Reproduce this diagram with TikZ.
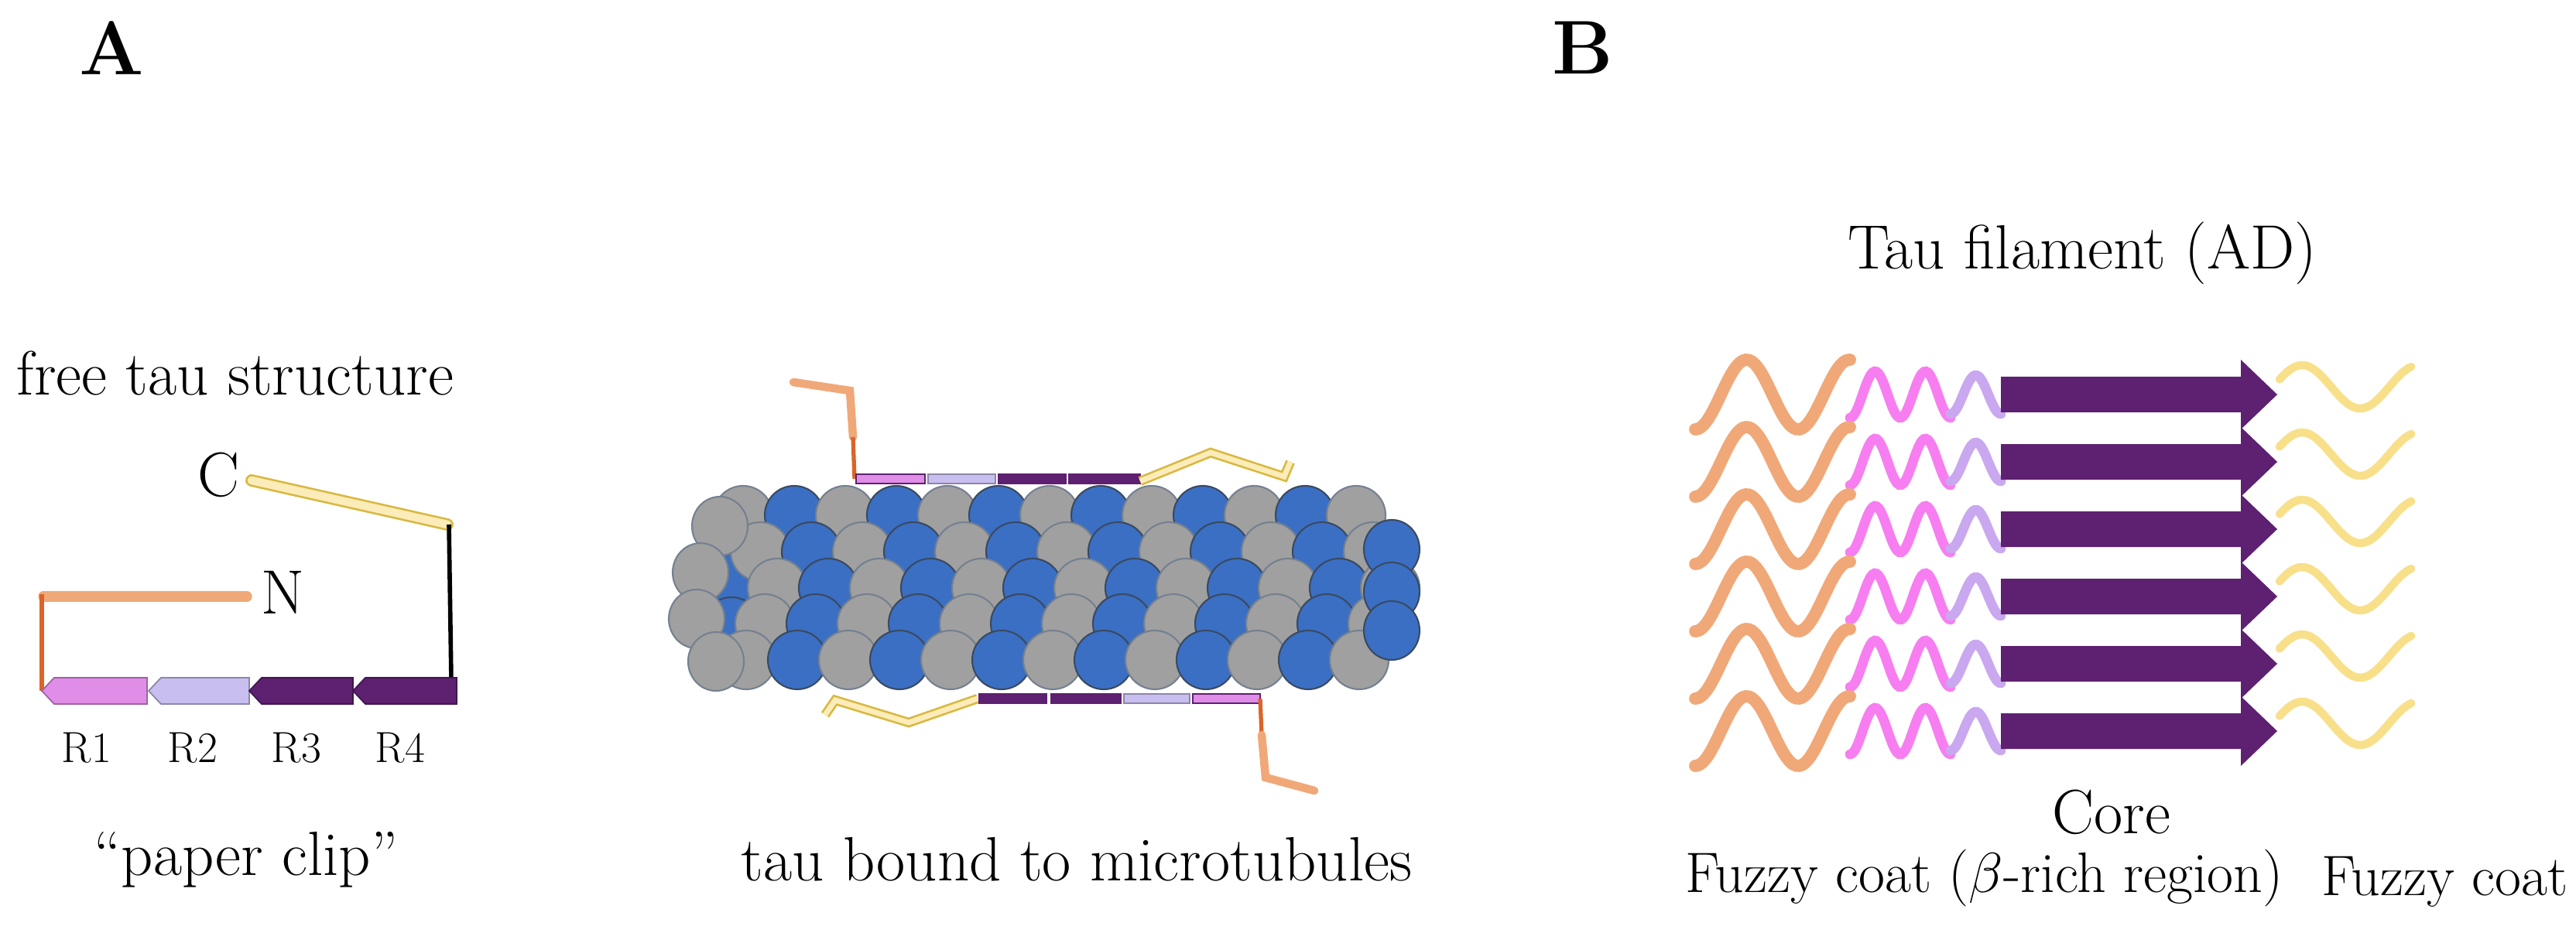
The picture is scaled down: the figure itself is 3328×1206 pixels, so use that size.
\documentclass[tikz,border=0pt]{standalone}
\definecolor{orng}{HTML}{F0A878}
\definecolor{orngd}{HTML}{D9652A}
\definecolor{pnk}{HTML}{F77EF0}
\definecolor{lil}{HTML}{C9A8F0}
\definecolor{ylw}{HTML}{F8E08A}
\definecolor{ylwd}{HTML}{D9B840}
\definecolor{purp}{HTML}{5E2070}
\definecolor{r1c}{HTML}{E08DE8}
\definecolor{r2c}{HTML}{C8BFF0}
\definecolor{mtb}{HTML}{3A6FC4}
\definecolor{mtg}{HTML}{A0A0A0}
\definecolor{mtline}{HTML}{3A4A60}
\tikzset{
  lbl/.style={font=\fontsize{23}{27}\selectfont, inner sep=0pt},
  lbls/.style={font=\fontsize{21}{25}\selectfont, inner sep=0pt},
  small/.style={font=\fontsize{16}{19}\selectfont, inner sep=0pt},
  panel/.style={font=\fontsize{28}{32}\selectfont\bfseries, inner sep=0pt},
  bluec/.style={fill=mtb, draw=mtline, line width=0.6pt},
  grayc/.style={fill=mtg, draw=mtline!70, line width=0.6pt},
}
\newcommand{\lpent}[5]{% x1,x2,y,halfheight,fill
  \filldraw[fill=#5,draw=#5!70!black,line width=0.5pt] (#1,#3) -- (#1+16,#3-#4) -- (#2,#3-#4) -- (#2,#3+#4) -- (#1+16,#3+#4) -- cycle;}
\newcommand{\fibrow}[1]{%
  \draw[orng,line width=4.5pt,line cap=round] plot[domain=2190:2390,samples=50,smooth] (\x,{#1+45*cos((\x-2190)/133*360)});
  \draw[pnk,line width=3.6pt,line cap=round] plot[domain=2390:2520,samples=50,smooth] (\x,{#1+30*cos((\x-2390)/65*360)});
  \draw[lil,line width=3.6pt,line cap=round] plot[domain=2520:2585,samples=30,smooth] (\x,{#1+25*cos((\x-2520)/65*360)});
  \fill[purp] (2585,#1-23) -- (2895,#1-23) -- (2895,#1-45) -- (2942,#1) -- (2895,#1+45) -- (2895,#1+23) -- (2585,#1+23) -- cycle;
  \draw[ylw,line width=3pt,line cap=round] plot[domain=2945:3115,samples=50,smooth] (\x,{#1-10+28*sin((\x-2945)/150*360+200)});
}
\begin{document}
\begin{tikzpicture}[x=0.1mm,y=-0.1mm]
\useasboundingbox (0,0) rectangle (3328,1206);
\fill[white] (0,0) rectangle (3328,1206);
% panel labels
\node[panel] (pA) at (144,62) {A};
\node[panel] (pB) at (2045,62) {B};
% ---------- free tau
\node[lbl] (ft) at (304,482) {free tau structure};
\node[lbl] (cl) at (282,614) {C};
\node[lbl] (nl) at (366,766) {N};
\draw[ylwd,line width=4.5pt,line cap=round] (325,621) -- (578,678);
\draw[ylw!60,line width=3pt,line cap=round] (325,621) -- (578,678);
\draw[black,line width=1.6pt] (580,678) -- (583,880);
\draw[orng,line width=3.8pt,line cap=round] (56,771) -- (319,771);
\draw[orngd,line width=1.5pt] (54,768) -- (54,893);
\lpent{54}{190}{893}{17}{r1c}
\lpent{192}{322}{893}{17}{r2c}
\lpent{322}{456}{893}{17}{purp}
\lpent{456}{590}{893}{17}{purp}
\node[small] (r1) at (112,967) {R1};
\node[small] (r2) at (249,967) {R2};
\node[small] (r3) at (383,967) {R3};
\node[small] (r4) at (517,967) {R4};
\node[lbl] (pc) at (318,1111) {``paper clip''};
% ---------- microtubule
\foreach \y in {690,750,810}{\filldraw[bluec] (945,\y) ellipse (38 and 38);}
\foreach \r/\y/\o in {0/666/0,1/713/22,2/760/44,3/806/28,4/853/4}{
  \foreach \c in {0,...,12}{
    \pgfmathtruncatemacro{\m}{mod(\c,2)}
    \ifnum\m=0
      \filldraw[grayc] (960+\o+66*\c,\y) ellipse (38 and 38);
    \else
      \filldraw[bluec] (960+\o+66*\c,\y) ellipse (38 and 38);
    \fi
  }
}
\foreach \x/\y in {930/680,905/740,900/800,925/855}{\filldraw[grayc] (\x,\y) ellipse (36 and 38);}
\foreach \y in {710,765,815}{\filldraw[bluec] (1798,\y) ellipse (36 and 38);}
% top tau
\draw[orng,line width=3pt,line cap=round] (1025,494) -- (1098,505) -- (1102,565);
\draw[orngd,line width=1.5pt] (1102,565) -- (1104,619);
\filldraw[fill=r1c,draw=purp,line width=0.6pt] (1106,613) rectangle (1195,625);
\filldraw[fill=r2c,draw=r2c!70!black,line width=0.4pt] (1199,613) rectangle (1286,625);
\filldraw[fill=purp,draw=purp] (1290,613) rectangle (1377,625);
\filldraw[fill=purp,draw=purp] (1381,613) rectangle (1473,625);
\draw[ylwd,line width=3.5pt] (1473,622) -- (1564,585) -- (1659,616) -- (1667,597);
\draw[ylw!60,line width=2pt] (1473,622) -- (1564,585) -- (1659,616) -- (1667,597);
% bottom tau
\draw[ylwd,line width=3.5pt] (1066,924) -- (1079,905) -- (1174,934) -- (1263,903);
\draw[ylw!60,line width=2pt] (1066,924) -- (1079,905) -- (1174,934) -- (1263,903);
\filldraw[fill=purp,draw=purp] (1265,897) rectangle (1352,909);
\filldraw[fill=purp,draw=purp] (1358,897) rectangle (1448,909);
\filldraw[fill=r2c,draw=r2c!70!black,line width=0.4pt] (1452,897) rectangle (1537,909);
\filldraw[fill=r1c,draw=purp,line width=0.6pt] (1541,897) rectangle (1628,909);
\draw[orngd,line width=1.5pt] (1628,903) -- (1630,950);
\draw[orng,line width=3pt,line cap=round] (1630,950) -- (1635,1005) -- (1698,1022);
\node[lbl] (tb) at (1391,1111) {tau bound to microtubules};
% ---------- panel B
\node[lbl] (tf) at (2690,327) {Tau filament (AD)};
\foreach \y in {510,597,684,771,858,945}{\fibrow{\y}}
\node[lbl] (core) at (2728,1050) {Core};
\node[lbls,anchor=east] (fz1) at (2950,1135) {Fuzzy coat ($\beta$-rich region)};
\node[lbls,anchor=east] (fz2) at (3318,1140) {Fuzzy coat};
\end{tikzpicture}
\end{document}
